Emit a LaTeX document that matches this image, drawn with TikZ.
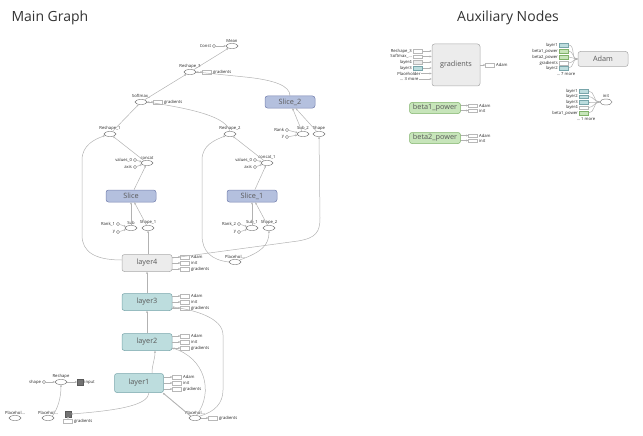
\documentclass[tikz,border=0pt]{standalone}
\usepackage{fontspec}
\setmainfont{Open Sans}
\usetikzlibrary{positioning,shapes.geometric,arrows.meta}
\definecolor{edgegray}{RGB}{178,178,178}
\definecolor{tealfill}{RGB}{189,221,222}
\definecolor{tealdraw}{RGB}{120,165,170}
\definecolor{slicefill}{RGB}{180,192,222}
\definecolor{slicedraw}{RGB}{118,130,175}
\definecolor{grayfill}{RGB}{236,236,236}
\definecolor{graydraw}{RGB}{170,170,170}
\definecolor{greenfill}{RGB}{199,229,186}
\definecolor{greendraw}{RGB}{128,178,106}
\begin{document}
\begin{tikzpicture}[x=1pt,y=-1pt,
  flow/.style={draw=edgegray,line width=0.5pt,-{Stealth[length=2.2pt,width=2pt]}},
  op/.style={ellipse,draw=black!55,fill=white,line width=0.4pt,minimum width=12pt,minimum height=5pt,inner sep=0pt},
  cst/.style={circle,draw=black!55,fill=white,line width=0.4pt,minimum size=3.4pt,inner sep=0pt},
  meta/.style={rectangle,rounded corners=2.5pt,line width=0.5pt,minimum width=50pt,minimum height=12pt,inner sep=0pt,font=\fontsize{7.3}{8}\selectfont,text=black!65},
  ann/.style={rectangle,draw=black!28,fill=white,line width=0.3pt,minimum width=9pt,minimum height=3.6pt,inner sep=0pt},
  lbl/.style={font=\fontsize{4.2}{5}\selectfont,inner sep=0.3pt,text=black!85},
  sq/.style={rectangle,draw=black!65,fill=black!55,minimum size=5.5pt,inner sep=0pt}]
  \useasboundingbox (0,0) rectangle (643,436);
  \node[font=\fontsize{14}{16}\selectfont,text=black!80,anchor=west] (maintitle) at (8,18) {Main Graph};
  \node[font=\fontsize{14}{16}\selectfont,text=black!80] (auxtitle) at (508,18) {Auxiliary Nodes};

  % Operation nodes
  \foreach \n/\x/\y/\txt in {mean/232/46/Mean, reshape3/190/72/Reshape\_3, softmax/141/102/Softmax\_,
      reshape1/110/134/Reshape\_1, reshape2/230/134/Reshape\_2, sub2/303/134/Sub\_2, shape/319/134/Shape,
      concat/147/163/concat, concat1/267/163/concat\_1, sub/131/228/Sub, shape1/148/228/Shape\_1,
      sub1/252/228/Sub\_1, shape2/269/228/Shape\_2, ph4/235/262/Placehol\dots, reshape/61/382/Reshape,
      ph1/15/418/Placehol\dots, ph2/48/418/Placehol\dots, ph3/195/418/Placehol\dots}{
    \node[op] (\n) at (\x,\y) {};
    \node[lbl,above=0.5pt of \n] (\n-l) {\txt};
  }
  % Constants
  \foreach \n/\x/\y/\txt in {const/214/46/Const, rank/287/130/Rank, yb/287/137/y,
      vals/135/160/values\_0, axis/135/167/axis, vals1/255/160/values\_0, axis1/255/167/axis,
      rank1/118/224/Rank\_1, ya/118/232/y, rank2/239/224/Rank\_2, yc/239/232/y, shapec/44/382/shape}{
    \node[cst] (\n) at (\x,\y) {};
    \node[lbl,left=0.6pt of \n] (\n-l) {\txt};
  }
  \foreach \a/\b in {const/mean, rank/sub2, yb/sub2, vals/concat, axis/concat, vals1/concat1, axis1/concat1,
      rank1/sub, ya/sub, rank2/sub1, yc/sub1, shapec/reshape}
    \draw[flow] (\a) -- (\b);

  % Name scopes
  \node[meta,fill=slicefill,draw=slicedraw] (slice2) at (290,102) {Slice\_2};
  \node[meta,fill=slicefill,draw=slicedraw] (slice) at (131,196) {Slice};
  \node[meta,fill=slicefill,draw=slicedraw] (slice1) at (252,196) {Slice\_1};
  \node[meta,fill=grayfill,draw=graydraw,minimum height=17pt] (layer4) at (147,263) {layer4};
  \node[meta,fill=tealfill,draw=tealdraw,minimum height=17pt] (layer3) at (147,302) {layer3};
  \node[meta,fill=tealfill,draw=tealdraw,minimum height=17pt] (layer2) at (147,342) {layer2};
  \node[meta,fill=tealfill,draw=tealdraw,minimum width=49pt,minimum height=19pt] (layer1) at (139,383) {layer1};
  \node[sq] (sq1) at (80,382) {};
  \node[lbl,right=1pt of sq1] (sq1-l) {input};
  \node[sq] (sq2) at (68,414) {};

  % Annotations on the right of the layers
  \foreach \n/\x/\y in {layer4/185/263, layer3/185/302, layer2/185/342, layer1/177/383}{
    \foreach \a/\d/\txt in {adam/-6/Adam, init/0/init, grad/6/gradients}{
      \node[ann] (\n-\a) at (\x,\y+\d) {};
      \node[lbl,right=1pt of \n-\a] (\n-\a-l) {\txt};
      \draw[flow] (\n-\a.west -| \n.east) -- (\n-\a.west);
    }
  }
  \foreach \n/\x/\y in {reshape3/207/72, softmax/158/102, sq2/68/421, ph3/213/418}{
    \node[ann] (\n-g) at (\x,\y) {};
    \node[lbl,right=1pt of \n-g] (\n-g-l) {gradients};
  }
  \draw[flow] (reshape3) -- (reshape3-g);
  \draw[flow] (softmax) -- (softmax-g);
  \draw[flow] (ph3) -- (ph3-g);
  \draw[flow] (sq2) -- (sq2-g);

  % Data flow
  \draw[flow] (reshape3) -- (mean);
  \draw[flow] (softmax) -- (reshape3);
  \draw[flow] (slice2.north) .. controls (290,86) and (275,80) .. (245,77) -- (reshape3.east);
  \draw[flow] (reshape1) -- (softmax);
  \draw[flow] (reshape2.north) .. controls (226,118) and (200,110) .. (softmax.east);
  \draw[flow] (sub2) -- (slice2);
  \draw[flow] (shape) -- (slice2);
  \draw[flow] (concat) -- (reshape1);
  \draw[flow] (concat1) -- (reshape2);
  \draw[flow] (slice) -- (concat);
  \draw[flow] (slice1) -- (concat1);
  \draw[flow] (sub) -- (slice);
  \draw[flow] (shape1) -- (slice);
  \draw[flow] (sub1) -- (slice1);
  \draw[flow] (shape2) -- (slice1);
  \draw[flow] (layer4.north -| shape1) -- (shape1);
  \draw[flow] ([yshift=3pt]layer4.west) .. controls (95,260) and (82,252) .. (82,235) -- (82,160)
    .. controls (82,145) and (95,139) .. (reshape1);
  \draw[flow] ([yshift=5pt]layer4.east) -- (298,241) .. controls (316,238) and (320,232) .. (320,218) -- (shape);
  \draw[flow] (ph4.west) .. controls (212,260) and (202,252) .. (202,235) -- (202,160)
    .. controls (202,145) and (215,140) .. (reshape2);
  \draw[flow] (ph4.north east) .. controls (262,252) and (269,245) .. (shape2);
  \draw[flow] (layer3) -- (layer4);
  \draw[flow] (layer2) -- (layer3);
  \draw[flow] ([xshift=13pt]layer1.north) .. controls (152,364) and (155,360) .. ([xshift=8pt]layer2.south);
  \draw[flow,line width=0.9pt] (ph3.north west) -- ([xshift=-1pt]layer1.south east);
  \draw[flow] (ph3.60) .. controls (214,392) and (205,358) .. ([yshift=-6pt]layer2.east);
  \draw[flow] (ph3.north east) .. controls (215,412) and (223,403) .. (223,390) -- (223,335)
    .. controls (223,318) and (195,310) .. ([yshift=-5pt]layer3.east);
  \draw[flow] ([xshift=10pt]layer1.south) .. controls (148,404) and (125,410) .. (sq2.east);
  \draw[flow] (ph2.north east) .. controls (58,408) and (61,398) .. (reshape);
  \draw[flow] (reshape) -- (sq1);

  % Auxiliary nodes
  \node[meta,fill=grayfill,draw=graydraw,minimum width=48pt,minimum height=42pt] (gradients) at (456,65) {gradients};
  \foreach \n/\y/\txt/\fc/\dc in {r3/51/Reshape\_3/white/black!28, sm/56.5/Softmax\_\dots/white/black!28,
      la/62/layer4/grayfill/black!28, lb/68/layer3/tealfill/tealdraw}{
    \node[ann,fill=\fc,draw=\dc] (g-\n) at (418,\y) {};
    \node[lbl,left=1pt of g-\n] (g-\n-l) {\txt};
    \draw[flow] (g-\n.east) -- (g-\n.east -| gradients.west);
  }
  \node[lbl,anchor=east] (g-ph) at (421,73.5) {Placeholder};
  \node[lbl,anchor=east] (g-more) at (419,79) {\dots{} 3 more};
  \draw[flow] (g-ph.east) -- (g-ph.east -| gradients.west);
  \draw[flow] (g-more.east) -- (g-more.east -| gradients.west);
  \node[ann] (g-adam) at (490,65) {};
  \node[lbl,right=1pt of g-adam] (g-adam-l) {Adam};
  \draw[flow] (gradients.east) -- (g-adam.west);

  \node[meta,fill=grayfill,draw=graydraw,minimum height=15pt] (adam) at (603,59) {Adam};
  \foreach \n/\y/\txt/\fc/\dc in {l1/45/layer1/tealfill/tealdraw, b1/51/beta1\_power/greenfill/greendraw,
      b2/57/beta2\_power/greenfill/greendraw, gr/63/gradients/white/black!28, l2/68/layer2/tealfill/tealdraw}{
    \node[ann,fill=\fc,draw=\dc] (a-\n) at (564,\y) {};
    \node[lbl,left=1pt of a-\n] (a-\n-l) {\txt};
    \draw[flow] (a-\n.east) to[out=0,in=180] (adam.west);
  }
  \node[lbl] (a-more) at (566,74) {\dots{} 7 more};

  \node[op,minimum width=12pt,minimum height=6pt] (init) at (606,102) {};
  \node[lbl,above=0.5pt of init] (init-l) {init};
  \foreach \n/\y/\txt/\fc/\dc in {l1/91/layer1/tealfill/tealdraw, l2/96.5/layer2/tealfill/tealdraw,
      l3/102/layer3/tealfill/tealdraw, l4/107.5/layer4/white/black!28, b1/113/beta1\_power/greenfill/greendraw}{
    \node[ann,fill=\fc,draw=\dc] (i-\n) at (584,\y) {};
    \node[lbl,left=1pt of i-\n] (i-\n-l) {\txt};
    \draw[flow] (i-\n.east) to[out=0,in=180] (init.west);
  }
  \node[lbl] (i-more) at (586,119) {\dots{} 1 more};

  \foreach \n/\y/\txt in {beta1/108/beta1\_power, beta2/138/beta2\_power}{
    \node[meta,fill=greenfill,draw=greendraw,minimum width=51pt,minimum height=11pt] (\n) at (435,\y) {\txt};
    \foreach \a/\d/\at in {adam/-2.5/Adam, init/2.5/init}{
      \node[ann] (\n-\a) at (473,\y+\d) {};
      \node[lbl,right=1pt of \n-\a] (\n-\a-l) {\at};
      \draw[flow] (\n-\a.west -| \n.east) -- (\n-\a.west);
    }
  }
\end{tikzpicture}
\end{document}
